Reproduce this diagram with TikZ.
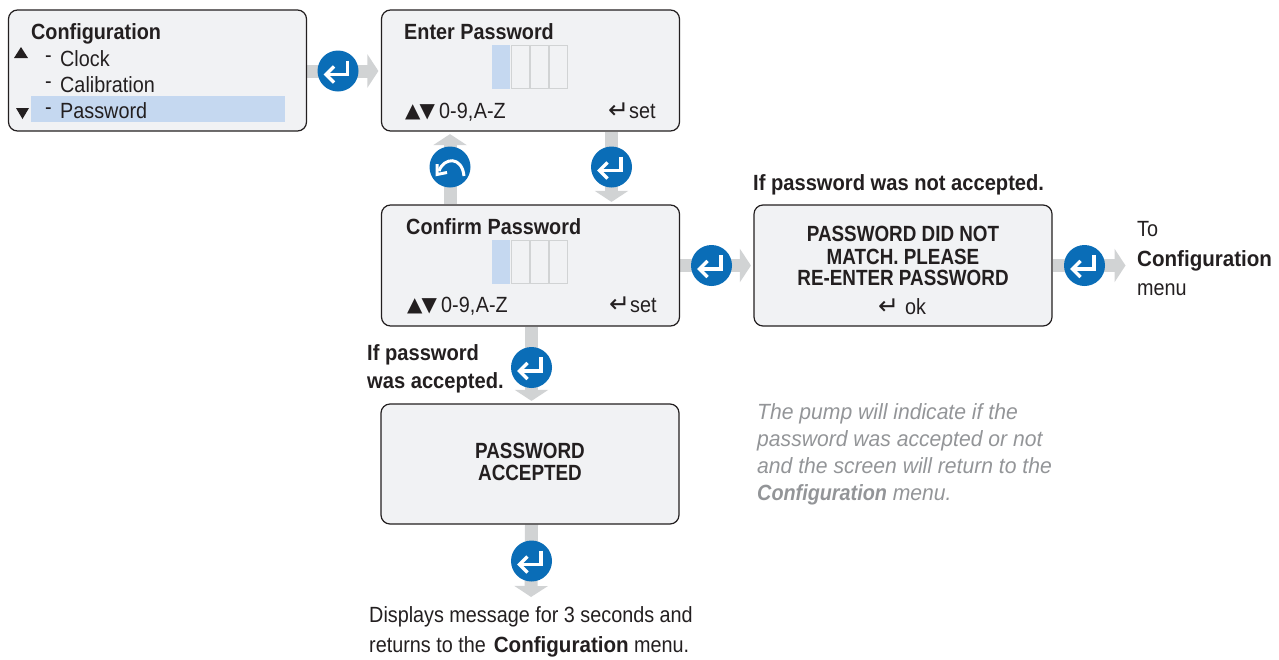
\documentclass[tikz,border=0pt]{standalone}
\usepackage{fontspec}
\setmainfont[FakeStretch=0.90]{Liberation Sans}
\newfontfamily\capsfont[FakeStretch=0.857]{Liberation Sans}
\newfontfamily\midfont[FakeStretch=0.915]{Liberation Sans}
\newfontfamily\widefont[FakeStretch=0.935]{Liberation Sans}
\newfontfamily\notefont[FakeStretch=0.96]{Liberation Sans}
\newfontfamily\symfont{DejaVu Sans}
\usetikzlibrary{arrows.meta,backgrounds}
\definecolor{boxfill}{HTML}{F1F2F4}
\definecolor{boxline}{HTML}{231F20}
\definecolor{flow}{HTML}{D1D3D4}
\definecolor{btn}{HTML}{0A6DB7}
\definecolor{hl}{HTML}{C5D8F0}
\definecolor{note}{HTML}{939598}
\newcommand{\fs}[1]{\fontsize{#1}{#1}\selectfont}
\tikzset{
 x=1pt,y=-1pt,
 screen/.style={draw=boxline,fill=boxfill,line width=1.2pt,rounded corners=9pt,minimum width=297pt,minimum height=120pt,inner sep=0pt},
 flowarrow/.style={draw=flow,line width=13pt,-{Triangle[length=11pt,width=33pt]},shorten >=2.5pt},
 button/.style={circle,fill=btn,minimum size=41pt,inner sep=0pt},
 tx/.style={anchor=base west,inner sep=0pt,text=boxline,font=\fs{22}},
 txb/.style={tx,font=\fs{22}\bfseries},
 txm/.style={tx,font=\midfont\fs{22}\bfseries},
 ctr/.style={anchor=base,inner sep=0pt,text=boxline,font=\capsfont\fs{22}\bfseries},
 nt/.style={anchor=base west,inner sep=0pt,text=note,font=\notefont\fs{22}\itshape},
 cell/.style={draw=flow,line width=1.2pt,fill=none,minimum width=17.5pt,minimum height=43.5pt,inner sep=0pt},
 activecell/.style={fill=hl,minimum width=18pt,minimum height=44pt,inner sep=0pt},
 sym/.style={anchor=base west,inner sep=0pt,text=boxline,font=\symfont\fs{20}},
 ret/.style={anchor=base west,inner sep=0pt,text=boxline,font=\symfont\fs{25}},
 pics/enterico/.style={code={
  \draw[white,line width=3.3pt,line join=miter] (9.5,-10.5) -- (9.5,3.5) -- (-11,3.5);
  \draw[white,line width=3.3pt,line join=miter] (-4,-4.5) -- (-12,3.5) -- (-4,11.5);
 }},
 pics/backico/.style={code={
  \draw[white,line width=3pt] (-11,4) .. controls (-6,-10) and (12,-11) .. (14,9);
  \draw[white,line width=3pt,line join=miter] (-13,-3) -- (-13,7.5) -- (-3,5.5);
 }},
}
\begin{document}
\begin{tikzpicture}
\useasboundingbox (0,0) rectangle (1279,659);
% screens
\node[screen,minimum width=298pt,minimum height=121pt] (config) at (157.5,70.5) {};
\node[screen,minimum width=298pt,minimum height=121pt] (enter) at (530.5,70.5) {};
\node[screen,minimum width=298pt,minimum height=121pt] (confirm) at (530.5,265.5) {};
\node[screen,minimum width=298pt,minimum height=121pt] (msg) at (903,265.5) {};
\node[screen,minimum width=298pt,minimum height=120pt] (accepted) at (530,464) {};
% buttons
\node[button] (b1) at (338,71) {};
\node[button] (b2) at (450,167) {};
\node[button] (b3) at (611.5,167) {};
\node[button] (b4) at (711.5,265.5) {};
\node[button] (b5) at (1084.5,265.5) {};
\node[button] (b6) at (531.5,367.5) {};
\node[button] (b7) at (531.5,561) {};
\pic at (b1) {enterico};
\pic at (b2) {backico};
\pic at (b3) {enterico};
\pic at (b4) {enterico};
\pic at (b5) {enterico};
\pic at (b6) {enterico};
\pic at (b7) {enterico};
\coordinate (toconfig) at (1128,265.5);
\coordinate (toend) at (531,599.5);
\begin{scope}[on background layer]
\draw[flowarrow] (config.east |- b1) -- (enter.west |- b1);
\draw[flowarrow] (confirm.north -| b2) -- (enter.south -| b2);
\draw[flowarrow] (enter.south -| b3) -- (confirm.north -| b3);
\draw[flowarrow] (confirm.east |- b4) -- (msg.west |- b4);
\draw[flowarrow] (msg.east |- b5) -- (toconfig);
\draw[flowarrow] (confirm.south -| b6) -- (accepted.north -| b6);
\draw[flowarrow] (accepted.south -| b7) -- (toend);
\end{scope}
% config contents
\node[fill=hl,minimum width=254pt,minimum height=26pt,inner sep=0pt] (sel) at (158,109) {};
\node[txb] (t1) at (31,39) {Configuration};
\node[tx] (d1) at (45,62) {-};
\node[tx] (d2) at (45,88) {-};
\node[tx] (d3) at (45,114) {-};
\node[tx] (t2) at (60,66) {Clock};
\node[tx] (t3) at (60,92) {Calibration};
\node[tx] (t4) at (60,118) {Password};
\fill[boxline] (14,58) -- (28,58) -- (21,47) -- cycle;
\fill[boxline] (16,108) -- (29,108) -- (22.5,119) -- cycle;
% enter
\node[txb] (t5) at (404,39) {Enter Password};
\node[activecell] (c1) at (501,67) {};
\node[cell] (c2) at (520.5,67) {};
\node[cell] (c3) at (539.5,67) {};
\node[cell] (c4) at (558.5,67) {};
\node[sym] (s1) at (405,117) {▲\kern-1pt▼};
\node[tx] (t6) at (439,118) {0-9,\kern-5pt{} A-Z};
\node[ret] (s2) at (608,118) {↵};
\node[tx] (t7) at (629,118) {set};
% confirm
\node[txb] (t8) at (406,234) {Confirm Password};
\node[activecell] (c5) at (501,262) {};
\node[cell] (c6) at (520.5,262) {};
\node[cell] (c7) at (539.5,262) {};
\node[cell] (c8) at (558.5,262) {};
\node[sym] (s3) at (407,311) {▲\kern-1pt▼};
\node[tx] (t9) at (441,312) {0-9,\kern-5pt{} A-Z};
\node[ret] (s4) at (609,312) {↵};
\node[tx] (t10) at (630,312) {set};
% message
\node[txm] (t11) at (753,190) {If password was not accepted.};
\node[ctr] (t12) at (903,241.5) {PASSWORD DID NOT};
\node[ctr] (t13) at (903,264) {MATCH. PLEASE};
\node[ctr] (t14) at (903,285) {RE-ENTER PASSWORD};
\node[ret] (s5) at (878,314) {↵};
\node[tx] (t15) at (905,314) {ok};
\node[tx] (t16) at (1137,236) {To};
\node[tx,font=\widefont\fs{22}\bfseries] (t17) at (1137,266) {Configuration};
\node[tx] (t18) at (1137,295) {menu};
% accepted
\node[txm] (t19) at (367,360) {If password};
\node[txm] (t20) at (367,388) {was accepted.};
\node[ctr] (t21) at (530,458) {PASSWORD};
\node[ctr] (t22) at (530,480) {ACCEPTED};
\node[nt] (n1) at (757,419) {The pump will indicate if the};
\node[nt] (n2) at (757,446) {password was accepted or not};
\node[nt] (n3) at (757,473) {and the screen will return to the};
\node[nt] (n4) at (757,500) {{\rmfamily\bfseries Configuration} menu.};
\node[tx] (t23) at (369,622) {Displays message for 3 seconds and};
\node[tx] (t24) at (369,652) {returns to the\kern2.5pt{} {\widefont\bfseries Configuration} menu.};
\end{tikzpicture}
\end{document}
